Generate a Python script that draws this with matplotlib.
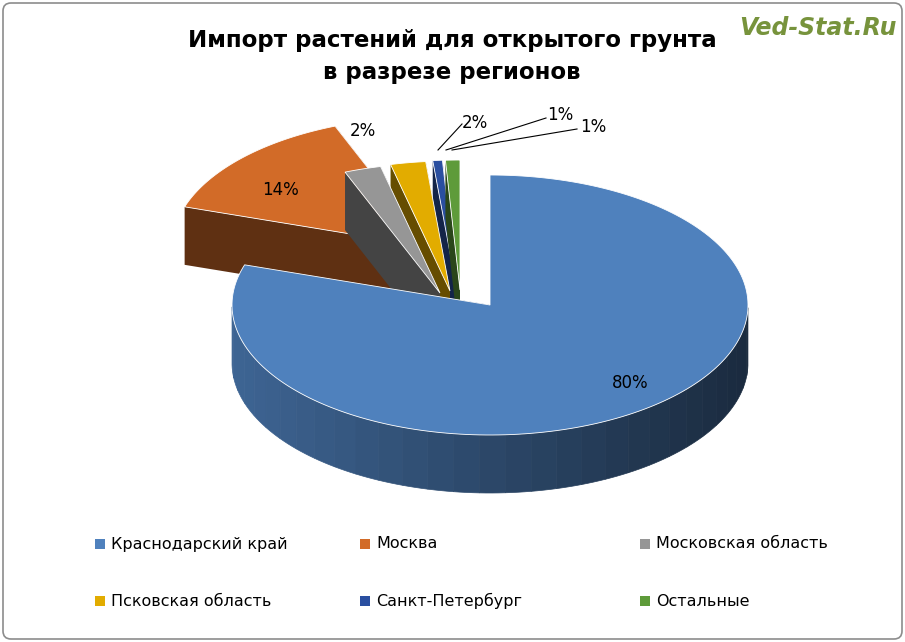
import numpy as np
import matplotlib.pyplot as plt
from matplotlib.patches import Polygon, Rectangle, FancyBboxPatch
import matplotlib.colors as mcolors

regions = ["Краснодарский край", "Москва", "Московская область",
           "Псковская область", "Санкт-Петербург", "Остальные"]
shares = [80.0, 14.0, 2.3, 2.2, 0.6, 0.9]
labels = ["80%", "14%", "2%", "2%", "1%", "1%"]
colors = ["#4F81BD", "#D26B28", "#969696", "#E2AC00", "#2A4FA0", "#5E9B3A"]
# explode offsets in pixels (dx, dy)
offsets = [(0, 0), (-60, -58), (-50, -12), (-40, -14), (-33, -15), (-30, -15)]

fig = plt.figure(figsize=(9.05, 6.42), dpi=100)
ax = fig.add_axes([0, 0, 1, 1])
ax.set_xlim(0, 905)
ax.set_ylim(642, 0)
ax.axis("off")

ax.add_patch(FancyBboxPatch((3, 3), 899, 636, boxstyle="round,pad=0,rounding_size=8",
                            fc="white", ec="#8C8C8C", lw=1.2))

cx, cy, rx, ry, depth = 490, 305, 258, 130, 58


def darker(c, f):
    r, g, b = mcolors.to_rgb(c)
    return (r * f, g * f, b * f)


def pt(ox, oy, t, dz=0):
    return ox + rx * np.cos(t), oy - ry * np.sin(t) + dz


# wedge angles (clockwise from 12 o'clock)
total = sum(shares)
starts = []
a = 90.0
for s in shares:
    a2 = a - 360 * s / total
    starts.append((a2, a))
    a = a2

# draw farthest wedges first
order = sorted(range(len(shares)), key=lambda i: offsets[i][1])
for i in order:
    a1, a2 = np.radians(starts[i][0]), np.radians(starts[i][1])
    ox = cx + offsets[i][0]
    oy = cy + offsets[i][1]
    side = darker(colors[i], 0.45)
    ts = np.linspace(a1, a2, 200)
    for t in (a1, a2):
        x, y = pt(ox, oy, t)
        ax.add_patch(Polygon([(ox, oy), (x, y), (x, y + depth), (ox, oy + depth)],
                             closed=True, fc=side, ec="none"))
    front = ts[np.sin(ts) < 0]
    if len(front) > 1:
        n = len(front)
        for k in range(0, n - 1, 4):
            seg = front[k:k + 5]
            sx, sy = pt(ox, oy, seg)
            f = 0.78 - 0.45 * (np.cos(seg.mean()) + 1) / 2
            ax.add_patch(Polygon(list(zip(sx, sy)) + list(zip(sx[::-1], sy[::-1] + depth)),
                                 closed=True, fc=darker(colors[i], f), ec=darker(colors[i], f), lw=0.5))
    xs, ys = pt(ox, oy, ts)
    ax.add_patch(Polygon([(ox, oy)] + list(zip(xs, ys)), closed=True,
                         fc=colors[i], ec="white", lw=0.6))

# data labels
lab_pos = [(630, 383), (280, 190), (363, 131), (475, 123), (560, 115), (593, 127)]
for (x, y), t in zip(lab_pos, labels):
    ax.text(x, y, t, fontsize=12, ha="center", va="center")
ax.plot([438, 462], [150, 124], color="black", lw=0.8)
ax.plot([446, 546], [150, 118], color="black", lw=0.8)
ax.plot([452, 577], [150, 129], color="black", lw=0.8)

# title
ax.text(452, 40, "Импорт растений для открытого грунта", fontsize=16.5, fontweight="bold",
        ha="center", va="center")
ax.text(452, 73, "в разрезе регионов", fontsize=16.5, fontweight="bold",
        ha="center", va="center")
ax.text(818, 28, "Ved-Stat.Ru", fontsize=17, fontweight="bold", style="italic",
        color="#77933C", ha="center", va="center")

# legend
leg_pos = [(95, 544), (360, 544), (640, 544), (95, 601), (360, 601), (640, 601)]
for (x, y), name, c in zip(leg_pos, regions, colors):
    ax.add_patch(Rectangle((x, y - 5), 10, 10, fc=c, ec="none"))
    ax.text(x + 16, y, name, fontsize=11.5, ha="left", va="center")

fig.savefig("out.png", dpi=100)
